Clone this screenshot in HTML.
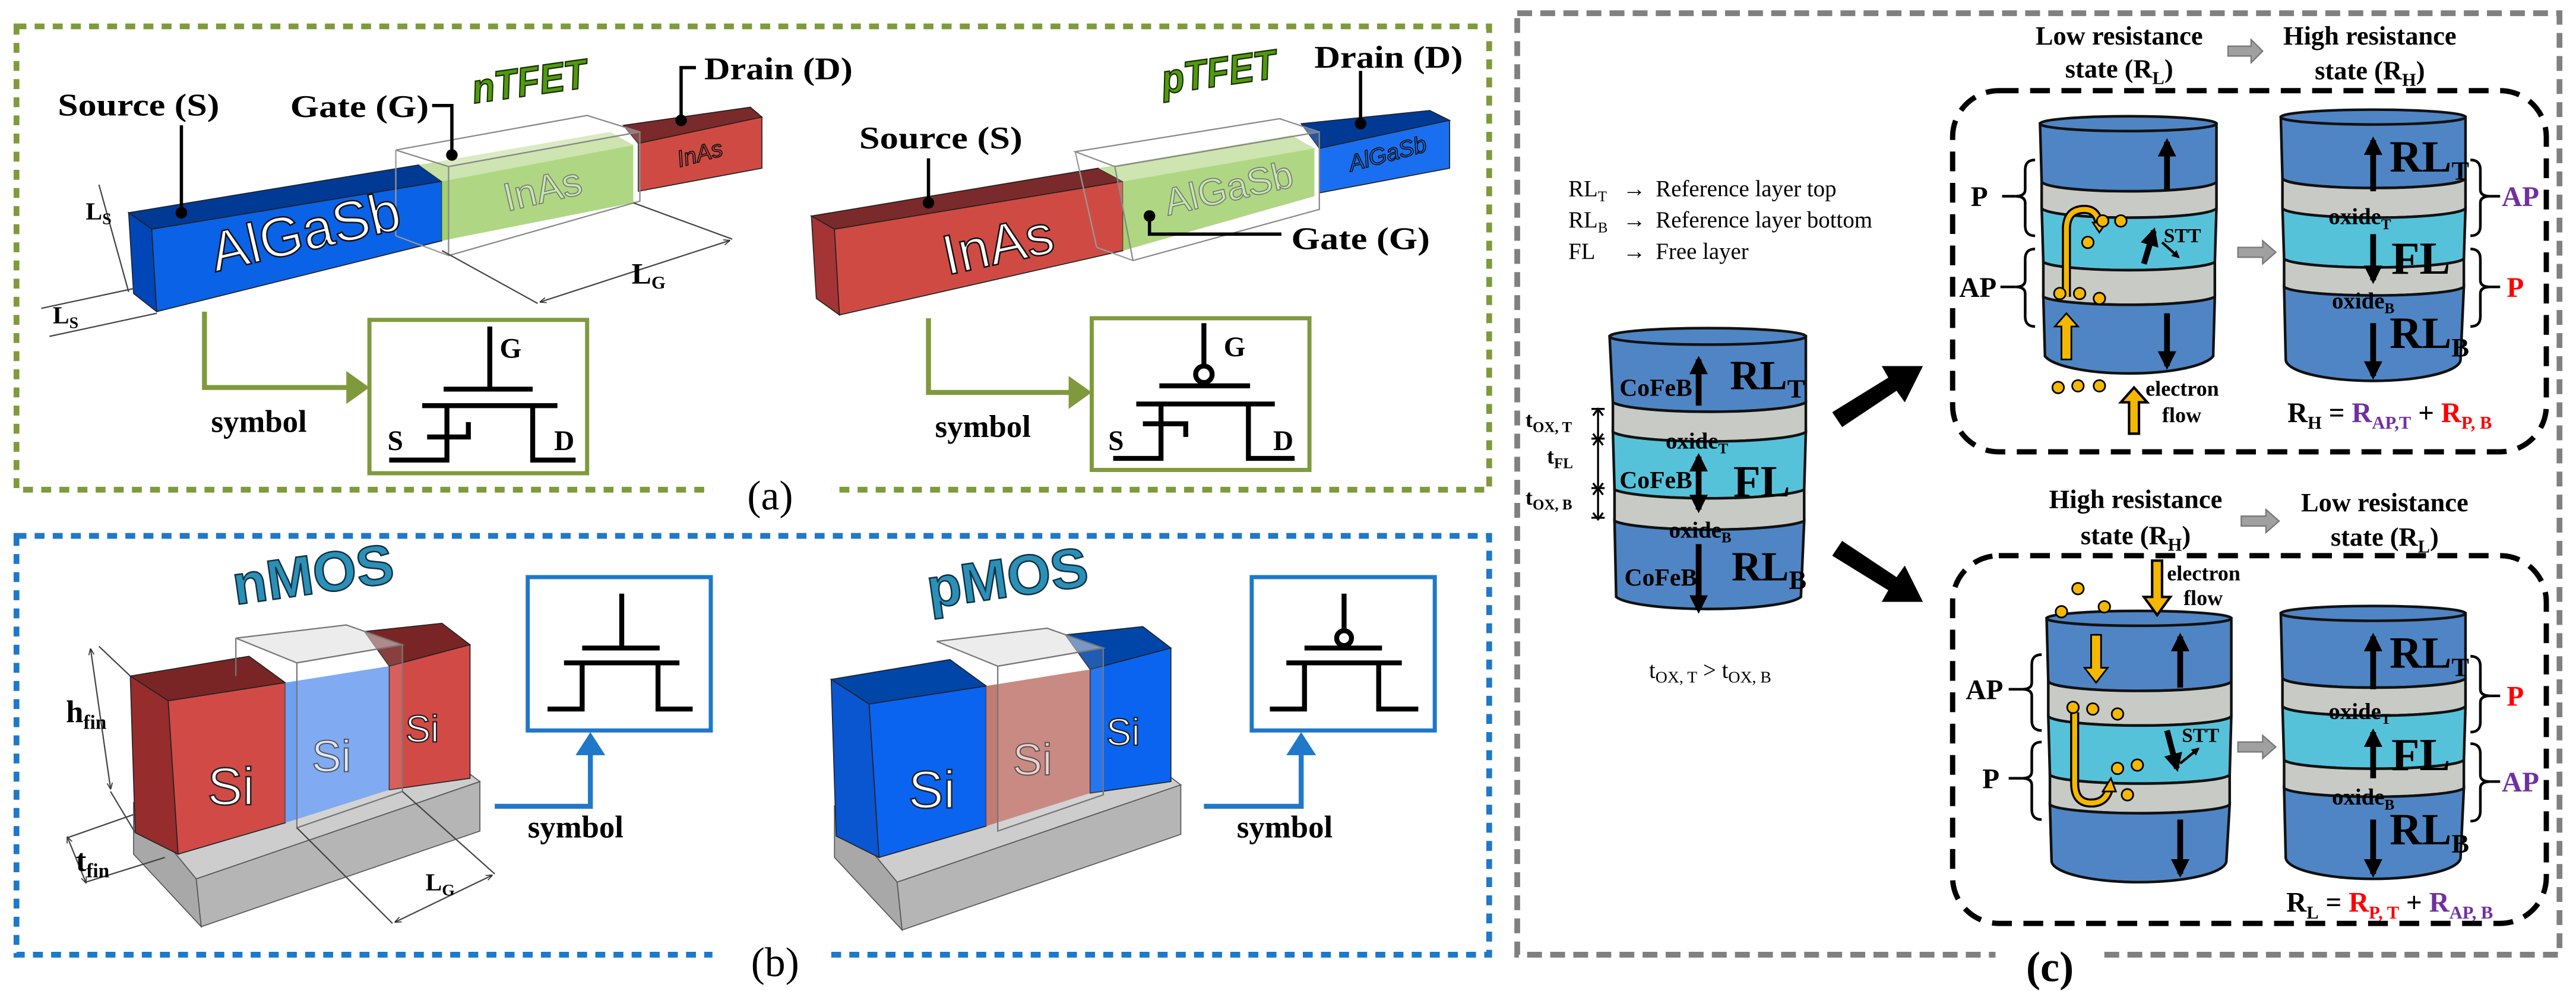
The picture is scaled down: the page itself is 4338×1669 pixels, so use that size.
<!DOCTYPE html>
<html><head><meta charset="utf-8"><style>
html,body{margin:0;padding:0;background:#fff;}
svg{display:block;}
text{font-family:"Liberation Serif",serif;}
.b{font-weight:bold;}
.sans{font-family:"Liberation Sans",sans-serif;}
</style></head><body>
<svg width="4338" height="1669" viewBox="0 0 1562 601" preserveAspectRatio="none" xmlns="http://www.w3.org/2000/svg">
<defs>
<marker id="ah" viewBox="0 0 10 10" refX="8" refY="5" markerWidth="3.2" markerHeight="3.2" orient="auto"><path d="M0,0L10,5L0,10z" fill="#000"/></marker>
<marker id="ahs" viewBox="0 0 10 10" refX="8" refY="5" markerWidth="5" markerHeight="5" orient="auto-start-reverse"><path d="M0,1L10,5L0,9" fill="none" stroke="#333" stroke-width="1.5"/></marker>
</defs>
<rect width="1562" height="601" fill="#fff"/>

<!-- ============ PANEL A ============ -->
<rect x="10" y="16" width="893" height="281" fill="none" stroke="#7f9a3c" stroke-width="3.5" stroke-dasharray="6 5"/>
<rect x="432" y="288" width="72" height="20" fill="#fff"/>
<text x="467" y="309" font-size="25" text-anchor="middle">(a)</text>

<polygon points="78,129 254,100 268,110 92,139" fill="#003a95" stroke="#222" stroke-width="0.6"/>
<polygon points="78,129 92,139 95,189 81,178" fill="#0046b8" stroke="#222" stroke-width="0.6"/>
<polygon points="92,139 268,110 268,146 95,189" fill="#0a62e6" stroke="#222" stroke-width="0.6"/>
<polygon points="254,100 370,80 384,88 268,110" fill="#c6e0a4"/>
<polygon points="268,110 384,88 384,123 268,146" fill="#a2d06e"/>
<polygon points="378,76 455,65 462,71 387,87" fill="#7a2a2a" stroke="#222" stroke-width="0.6"/>
<polygon points="387,87 462,71 462,102 387,116" fill="#d04a44" stroke="#222" stroke-width="0.6"/>
<polygon points="240,91 356,70 388,80 272,101" fill="#fff" fill-opacity="0.35" stroke="#888" stroke-width="0.8"/>
<polygon points="272,101 388,80 388,122 272,155" fill="#fff" fill-opacity="0.15" stroke="#888" stroke-width="0.8"/>
<line x1="240" y1="91" x2="240" y2="143" stroke="#999" stroke-width="0.8"/>
<line x1="240" y1="143" x2="272" y2="155" stroke="#999" stroke-width="0.8"/>
<text x="185" y="152" font-size="34" class="sans" fill="#fff" stroke="#111" stroke-width="0.9" text-anchor="middle" transform="rotate(-13 185 140)">AlGaSb</text>
<text x="329" y="123" font-size="24" class="sans" fill="#c8e8b0" stroke="#777" stroke-width="0.6" text-anchor="middle" transform="rotate(-13 329 115)">InAs</text>
<text x="424" y="98" font-size="14" class="sans" font-style="italic" fill="#d04a44" stroke="#111" stroke-width="0.6" text-anchor="middle" transform="rotate(-15 424 92)">InAs</text>
<text x="35" y="70" font-size="19" class="b" textLength="98" lengthAdjust="spacingAndGlyphs">Source (S)</text>
<polyline points="110,76 110,129" fill="none" stroke="#000" stroke-width="2"/><circle cx="110" cy="129" r="3.5"/>
<text x="176" y="71" font-size="19" class="b" textLength="84" lengthAdjust="spacingAndGlyphs">Gate (G)</text>
<polyline points="262,64 274,64 274,94" fill="none" stroke="#000" stroke-width="2"/><circle cx="274" cy="94" r="3.5"/>
<text x="427" y="48" font-size="19" class="b" textLength="90" lengthAdjust="spacingAndGlyphs">Drain (D)</text>
<polyline points="422,41 413,41 413,73" fill="none" stroke="#000" stroke-width="2"/><circle cx="413" cy="73" r="3.5"/>
<text x="286" y="58" font-size="25" class="sans b" font-style="italic" fill="#4f9a10" stroke="#1a2a00" stroke-width="0.8" textLength="70" lengthAdjust="spacingAndGlyphs" transform="rotate(-8 320 50)">nTFET</text>
<line x1="60" y1="112" x2="78" y2="177" stroke="#444" stroke-width="0.8"/>
<text x="52" y="133" font-size="15" class="b">L<tspan font-size="10" dy="3">S</tspan></text>
<line x1="30" y1="204" x2="95" y2="190" stroke="#444" stroke-width="0.8"/>
<line x1="25" y1="187" x2="81" y2="175" stroke="#444" stroke-width="0.8"/>
<text x="32" y="196" font-size="15" class="b">L<tspan font-size="10" dy="3">S</tspan></text>
<line x1="268" y1="152" x2="326" y2="184" stroke="#444" stroke-width="0.8"/>
<line x1="384" y1="123" x2="444" y2="145" stroke="#444" stroke-width="0.8"/>
<line x1="328" y1="183" x2="442" y2="146" stroke="#444" stroke-width="0.8" marker-start="url(#ahs)" marker-end="url(#ahs)"/>
<text x="383" y="172" font-size="18" class="b">L<tspan font-size="11" dy="3">G</tspan></text>
<polyline points="124,189 124,235 214,235" fill="none" stroke="#7f9a3c" stroke-width="3"/>
<polygon points="210,225 224,235 210,245" fill="#7f9a3c"/>
<text x="128" y="262" font-size="19" class="b">symbol</text>
<rect x="224" y="194" width="132" height="93" fill="#fff" stroke="#7f9a3c" stroke-width="2.5"/>
<g stroke="#000" stroke-width="3" fill="none">
<path d="M297,198V236M269,236H323M256,246H338M271,246V279H236M259,265H284V256M323,246V279H349"/>
</g>
<text x="303" y="217" font-size="17" class="b">G</text>
<text x="235" y="273" font-size="17" class="b">S</text>
<text x="336" y="273" font-size="17" class="b">D</text>

<polygon points="492,131 666,102 681,110 506,139" fill="#7a2a2a" stroke="#222" stroke-width="0.6"/>
<polygon points="492,131 506,139 509,191 495,181" fill="#a53434" stroke="#222" stroke-width="0.6"/>
<polygon points="506,139 681,110 681,152 509,191" fill="#d04a44" stroke="#222" stroke-width="0.6"/>
<polygon points="666,102 783,82 797,90 681,110" fill="#c6e0a4"/>
<polygon points="681,110 797,90 797,119 681,152" fill="#a2d06e"/>
<polygon points="789,75 867,67 879,73 800,90" fill="#003a95" stroke="#222" stroke-width="0.6"/>
<polygon points="800,90 879,73 879,102 800,117" fill="#1a6ff0" stroke="#222" stroke-width="0.6"/>
<polygon points="652,92 776,72 800,80 676,101" fill="#fff" fill-opacity="0.35" stroke="#888" stroke-width="0.8"/>
<polygon points="676,101 800,80 800,127 687,158" fill="#fff" fill-opacity="0.15" stroke="#888" stroke-width="0.8"/>
<line x1="652" y1="92" x2="665" y2="150" stroke="#999" stroke-width="0.8"/>
<line x1="665" y1="150" x2="687" y2="158" stroke="#999" stroke-width="0.8"/>
<text x="605" y="160" font-size="34" class="sans" fill="#fff" stroke="#111" stroke-width="0.9" text-anchor="middle" transform="rotate(-12 605 148)">InAs</text>
<text x="745" y="122" font-size="23" class="sans" fill="#c8e8b0" stroke="#777" stroke-width="0.6" text-anchor="middle" transform="rotate(-13 745 114)">AlGaSb</text>
<text x="841" y="98" font-size="14" class="sans" font-style="italic" fill="#1a6ff0" stroke="#111" stroke-width="0.6" text-anchor="middle" transform="rotate(-15 841 92)">AlGaSb</text>
<text x="521" y="90" font-size="19" class="b" textLength="99" lengthAdjust="spacingAndGlyphs">Source (S)</text>
<polyline points="563,96 563,123" fill="none" stroke="#000" stroke-width="2"/><circle cx="563" cy="123" r="3.5"/>
<text x="797" y="41" font-size="19" class="b" textLength="90" lengthAdjust="spacingAndGlyphs">Drain (D)</text>
<polyline points="825,43 825,75" fill="none" stroke="#000" stroke-width="2"/><circle cx="825" cy="75" r="3.5"/>
<text x="783" y="151" font-size="19" class="b" textLength="84" lengthAdjust="spacingAndGlyphs">Gate (G)</text>
<polyline points="697,131 697,142 777,142" fill="none" stroke="#000" stroke-width="2"/><circle cx="697" cy="131" r="3.5"/>
<text x="704" y="52" font-size="25" class="sans b" font-style="italic" fill="#4f9a10" stroke="#1a2a00" stroke-width="0.8" textLength="70" lengthAdjust="spacingAndGlyphs" transform="rotate(-8 740 44)">pTFET</text>
<polyline points="563,193 563,238 652,238" fill="none" stroke="#7f9a3c" stroke-width="3"/>
<polygon points="648,228 662,238 648,248" fill="#7f9a3c"/>
<text x="567" y="265" font-size="19" class="b">symbol</text>
<rect x="662" y="193" width="132" height="92" fill="#fff" stroke="#7f9a3c" stroke-width="2.5"/>
<g stroke="#000" stroke-width="3" fill="none">
<path d="M730,196V222M703,234H758M689,245H773M704,245V278H675M693,257H719V265M757,245V278H785"/>
<circle cx="730" cy="227" r="5"/>
</g>
<text x="742" y="216" font-size="17" class="b">G</text>
<text x="672" y="273" font-size="17" class="b">S</text>
<text x="772" y="273" font-size="17" class="b">D</text>

<!-- ============ PANEL B ============ -->
<rect x="10" y="325" width="893" height="254" fill="none" stroke="#1f78c8" stroke-width="3.5" stroke-dasharray="6 5"/>
<rect x="432" y="570" width="72" height="20" fill="#fff"/>
<text x="470" y="592" font-size="25" text-anchor="middle">(b)</text>

<g>
<polygon points="81,487 270,458 291,474 119,533" fill="#cdcdcd" stroke="#555" stroke-width="0.6"/>
<polygon points="81,487 119,533 122,562 81,518" fill="#a8a8a8" stroke="#555" stroke-width="0.6"/>
<polygon points="119,533 291,474 291,504 122,562" fill="#b5b5b5" stroke="#555" stroke-width="0.6"/>
<polygon points="79,410 151,398 173,414 102,425" fill="#7a2525" stroke="#222" stroke-width="0.6"/>
<polygon points="79,410 102,425 108,518 82,505" fill="#962c2c" stroke="#222" stroke-width="0.6"/>
<polygon points="102,425 173,414 173,499 108,518" fill="#d24a46" stroke="#222" stroke-width="0.6"/>
<polygon points="173,414 236,404 236,479 173,499" fill="#6f9ff0"/>
<polygon points="221,383 268,378 285,391 236,404" fill="#7a2525" stroke="#222" stroke-width="0.6"/>
<polygon points="236,404 285,391 285,472 236,479" fill="#d24a46" stroke="#222" stroke-width="0.6"/>
<polygon points="143,387 210,379 244,391 180,402" fill="#ddd" fill-opacity="0.55" stroke="#777" stroke-width="0.8"/>
<polygon points="180,402 244,391 244,480 180,502" fill="#fff" fill-opacity="0.12" stroke="#777" stroke-width="0.8"/>
<line x1="143" y1="387" x2="143" y2="410" stroke="#777" stroke-width="0.8"/>
</g>
<text x="140" y="488" font-size="32" class="sans" fill="#fff" stroke="#222" stroke-width="0.9" text-anchor="middle">Si</text>
<text x="201" y="468" font-size="27" class="sans" fill="#dde8ff" stroke="#555" stroke-width="0.7" text-anchor="middle">Si</text>
<text x="256" y="450" font-size="23" class="sans" fill="#fff" stroke="#222" stroke-width="0.8" text-anchor="middle">Si</text>
<text x="190" y="360" font-size="34" class="sans b" fill="#2a90b8" stroke="#123040" stroke-width="0.9" text-anchor="middle" transform="rotate(-8 190 350)">nMOS</text>
<line x1="55" y1="394" x2="67" y2="478" stroke="#444" stroke-width="0.8" marker-start="url(#ahs)" marker-end="url(#ahs)"/>
<line x1="60" y1="392" x2="79" y2="410" stroke="#444" stroke-width="0.8"/>
<line x1="67" y1="480" x2="82" y2="505" stroke="#444" stroke-width="0.8"/>
<text x="40" y="438" font-size="19" class="b">h<tspan font-size="12" dy="4">fin</tspan></text>
<line x1="41" y1="508" x2="52" y2="535" stroke="#444" stroke-width="0.8" marker-start="url(#ahs)" marker-end="url(#ahs)"/>
<line x1="41" y1="508" x2="81" y2="494" stroke="#444" stroke-width="0.8"/>
<line x1="52" y1="535" x2="100" y2="520" stroke="#444" stroke-width="0.8"/>
<text x="46" y="528" font-size="19" class="b">t<tspan font-size="12" dy="4">fin</tspan></text>
<line x1="180" y1="502" x2="238" y2="560" stroke="#444" stroke-width="0.8"/>
<line x1="244" y1="480" x2="300" y2="530" stroke="#444" stroke-width="0.8"/>
<line x1="240" y1="559" x2="298" y2="531" stroke="#444" stroke-width="0.8" marker-start="url(#ahs)" marker-end="url(#ahs)"/>
<text x="258" y="540" font-size="15" class="b">L<tspan font-size="10" dy="3">G</tspan></text>
<polyline points="300,489 358,489 358,455" fill="none" stroke="#1f78c8" stroke-width="3"/>
<polygon points="349,458 358,444 367,458" fill="#1f78c8"/>
<text x="320" y="508" font-size="19" class="b">symbol</text>
<rect x="320" y="350" width="111" height="93" fill="#fff" stroke="#1f78c8" stroke-width="2.5"/>
<path d="M377,360V393M353,393H400M342,402H412M353,402V430H332M399,402V430H420" stroke="#000" stroke-width="3" fill="none"/>

<g transform="translate(425,2)">
<polygon points="81,487 270,458 291,474 119,533" fill="#cdcdcd" stroke="#555" stroke-width="0.6"/>
<polygon points="81,487 119,533 122,562 81,518" fill="#a8a8a8" stroke="#555" stroke-width="0.6"/>
<polygon points="119,533 291,474 291,504 122,562" fill="#b5b5b5" stroke="#555" stroke-width="0.6"/>
<polygon points="79,410 151,398 173,414 102,425" fill="#0046a8" stroke="#222" stroke-width="0.6"/>
<polygon points="79,410 102,425 108,518 82,505" fill="#0a55d0" stroke="#222" stroke-width="0.6"/>
<polygon points="102,425 173,414 173,499 108,518" fill="#0a64f0" stroke="#222" stroke-width="0.6"/>
<polygon points="173,414 236,404 236,479 173,499" fill="#c27a72"/>
<polygon points="221,383 268,378 285,391 236,404" fill="#0046a8" stroke="#222" stroke-width="0.6"/>
<polygon points="236,404 285,391 285,472 236,479" fill="#0a64f0" stroke="#222" stroke-width="0.6"/>
<polygon points="143,387 210,379 244,391 180,402" fill="#ddd" fill-opacity="0.55" stroke="#777" stroke-width="0.8"/>
<polygon points="180,402 244,391 244,480 180,502" fill="#fff" fill-opacity="0.12" stroke="#777" stroke-width="0.8"/>
</g>
<text x="565" y="490" font-size="32" class="sans" fill="#fff" stroke="#222" stroke-width="0.9" text-anchor="middle">Si</text>
<text x="626" y="470" font-size="27" class="sans" fill="#f0d0cc" stroke="#555" stroke-width="0.7" text-anchor="middle">Si</text>
<text x="681" y="452" font-size="23" class="sans" fill="#fff" stroke="#222" stroke-width="0.8" text-anchor="middle">Si</text>
<text x="611" y="362" font-size="34" class="sans b" fill="#2a90b8" stroke="#123040" stroke-width="0.9" text-anchor="middle" transform="rotate(-8 611 352)">pMOS</text>
<polyline points="730,489 789,489 789,455" fill="none" stroke="#1f78c8" stroke-width="3"/>
<polygon points="780,458 789,444 798,458" fill="#1f78c8"/>
<text x="750" y="508" font-size="19" class="b">symbol</text>
<rect x="759" y="350" width="111" height="93" fill="#fff" stroke="#1f78c8" stroke-width="2.5"/>
<g stroke="#000" stroke-width="3" fill="none"><path d="M815,360V382M791,393H838M780,402H850M791,402V430H770M836,402V430H860"/><circle cx="815" cy="387" r="4.5"/></g>

<!-- ============ PANEL C ============ -->
<rect x="920" y="8" width="632" height="571" fill="none" stroke="#808080" stroke-width="3.5" stroke-dasharray="9 5"/>
<rect x="1210" y="570" width="64" height="25" fill="#fff"/>
<text x="1243" y="595" font-size="26" class="b" text-anchor="middle">(c)</text>

<g font-size="14">
<text x="951" y="119">RL<tspan font-size="9" dy="3">T</tspan></text><text x="984" y="119">→</text><text x="1004" y="119">Reference layer top</text>
<text x="951" y="138">RL<tspan font-size="9" dy="3">B</tspan></text><text x="984" y="138">→</text><text x="1004" y="138">Reference layer bottom</text>
<text x="951" y="157">FL</text><text x="984" y="157">→</text><text x="1004" y="157">Free layer</text>
</g>

<g stroke="#111" stroke-width="1.6">
<path d="M976,204 L978,244 A59.5,7 0 0 0 1095,244 L1095,204 Z" fill="#4f85c4"/>
<path d="M978,244 A59.5,7 0 0 0 1095,244 L1095,262 A59.5,7 0 0 1 978,262 Z" fill="#c8cac6"/>
<path d="M978,262 A59.5,7 0 0 0 1095,262 L1094,297 A59.5,7 0 0 1 979,297 Z" fill="#56c2da"/>
<path d="M979,297 A59.5,7 0 0 0 1094,297 L1094,316 A59.5,7 0 0 1 979,316 Z" fill="#c8cac6"/>
<path d="M979,316 A59.5,7 0 0 0 1094,316 L1092,362 A57,9 0 0 1 980,362 Z" fill="#4f85c4"/>
<ellipse cx="1035.5" cy="204" rx="59.5" ry="5" fill="#4f85c4"/>
</g>
<g font-weight="bold">
<text x="982" y="240" font-size="15">CoFeB</text>
<text x="1049" y="236" font-size="25">RL<tspan font-size="16" dy="5">T</tspan></text>
<text x="1010" y="272" font-size="14">oxide<tspan font-size="9" dy="3">T</tspan></text>
<text x="982" y="296" font-size="15">CoFeB</text>
<text x="1051" y="301" font-size="27">FL</text>
<text x="1012" y="326" font-size="14">oxide<tspan font-size="9" dy="3">B</tspan></text>
<text x="985" y="355" font-size="15">CoFeB</text>
<text x="1050" y="352" font-size="25">RL<tspan font-size="16" dy="5">B</tspan></text>
</g>
<line x1="1030" y1="246" x2="1030" y2="218" stroke="#000" stroke-width="3.5" marker-end="url(#ah)"/>
<line x1="1030" y1="290" x2="1030" y2="277" stroke="#000" stroke-width="3.5" marker-end="url(#ah)"/>
<line x1="1030" y1="290" x2="1030" y2="309" stroke="#000" stroke-width="3.5" marker-end="url(#ah)"/>
<line x1="1030" y1="330" x2="1030" y2="370" stroke="#000" stroke-width="3.5" marker-end="url(#ah)"/>
<g stroke="#000" stroke-width="1.2" fill="none">
<path d="M969,249V266M966,252L969,248L972,252M966,263L969,267L972,263"/>
<path d="M969,267V296M966,270L969,266L972,270M966,293L969,297L972,293"/>
<path d="M969,297V314M966,300L969,296L972,300M966,311L969,315L972,311"/>
<path d="M965,248H973M965,266H973M965,296H973M965,314H973"/>
</g>
<g font-weight="bold" font-size="13">
<text x="925" y="259">t<tspan font-size="9" dy="3">OX, T</tspan></text>
<text x="938" y="281">t<tspan font-size="9" dy="3">FL</tspan></text>
<text x="925" y="306">t<tspan font-size="9" dy="3">OX, B</tspan></text>
</g>
<text x="1037" y="411" font-size="14" text-anchor="middle">t<tspan font-size="10" dy="3">OX, T</tspan><tspan dy="-3"> &gt; t</tspan><tspan font-size="10" dy="3">OX, B</tspan></text>

<polygon points="1111,250 1145,229 1141,222 1166,222 1155,244 1150,237 1117,259" fill="#000"/>
<polygon points="1111,337 1145,358 1141,365 1166,365 1155,343 1150,350 1117,328" fill="#000"/>

<g font-weight="bold" font-size="16" text-anchor="middle">
<text x="1285" y="27">Low resistance</text>
<text x="1285" y="47">state (R<tspan font-size="11" dy="4">L</tspan><tspan dy="-4">)</tspan></text>
<text x="1437" y="27">High resistance</text>
<text x="1437" y="48">state (R<tspan font-size="11" dy="4">H</tspan><tspan dy="-4">)</tspan></text>
<text x="1295" y="308">High resistance</text>
<text x="1295" y="330">state (R<tspan font-size="11" dy="4">H</tspan><tspan dy="-4">)</tspan></text>
<text x="1446" y="310">Low resistance</text>
<text x="1446" y="331">state (R<tspan font-size="11" dy="4">L</tspan><tspan dy="-4">)</tspan></text>
</g>
<g fill="#a0a0a0" stroke="#777" stroke-width="0.8">
<polygon points="1351,28 1365,28 1365,24 1372,31 1365,38 1365,34 1351,34"/>
<polygon points="1359,313 1374,313 1374,309 1382,316 1374,323 1374,319 1359,319"/>
<polygon points="1357,150 1372,150 1372,146 1380,153 1372,160 1372,156 1357,156"/>
<polygon points="1357,450 1372,450 1372,446 1380,453 1372,460 1372,456 1357,456"/>
</g>

<rect x="1184" y="55" width="360" height="219" rx="28" fill="none" stroke="#000" stroke-width="3.2" stroke-dasharray="12 7"/>
<rect x="1184" y="337" width="360" height="223" rx="28" fill="none" stroke="#000" stroke-width="3.2" stroke-dasharray="12 7"/>

<g stroke="#111" stroke-width="1.6">
<path d="M1237,75 L1238,110 A53,6 0 0 0 1344,110 L1344,75 Z" fill="#4f85c4"/>
<path d="M1238,110 A53,6 0 0 0 1344,110 L1344,126 A53,6 0 0 1 1238,126 Z" fill="#c8cac6"/>
<path d="M1238,126 A53,6 0 0 0 1344,126 L1343,159 A53,6 0 0 1 1239,159 Z" fill="#56c2da"/>
<path d="M1239,159 A53,6 0 0 0 1343,159 L1343,180 A53,6 0 0 1 1239,180 Z" fill="#c8cac6"/>
<path d="M1239,180 A53,6 0 0 0 1343,180 L1342,216 A52,13 0 0 1 1240,216 Z" fill="#4f85c4"/>
<ellipse cx="1290.5" cy="75" rx="53.5" ry="4.5" fill="#4f85c4"/>
</g>
<line x1="1314" y1="115" x2="1314" y2="86" stroke="#000" stroke-width="3.5" marker-end="url(#ah)"/>
<line x1="1314" y1="190" x2="1314" y2="222" stroke="#000" stroke-width="3.5" marker-end="url(#ah)"/>
<line x1="1300" y1="160" x2="1306" y2="140" stroke="#000" stroke-width="3.5" marker-end="url(#ah)"/>
<line x1="1311" y1="147" x2="1321" y2="156" stroke="#000" stroke-width="1.5" marker-end="url(#ah)"/>
<text x="1312" y="147" font-size="12" font-weight="bold">STT</text>
<g stroke="#000" stroke-width="1">
<path d="M1253,180 V139 Q1253,127 1264,127 Q1272,127 1273,137" fill="none" stroke="#000" stroke-width="5.5"/>
<path d="M1253,180 V139 Q1253,127 1264,127 Q1272,127 1273,137" fill="none" stroke="#f5b800" stroke-width="3"/>
<polygon points="1269,135 1277,135 1273,141" fill="#f5b800"/>
<polygon points="1250,218 1250,198 1246,198 1253,190 1260,198 1256,198 1256,218" fill="#f5b800"/>
<polygon points="1291,263 1291,244 1286,244 1294,235 1302,244 1297,244 1297,263" fill="#f5b800" stroke-width="1.5"/>
<circle cx="1275" cy="134" r="3.5" fill="#f5b800"/><circle cx="1286" cy="134" r="3.5" fill="#f5b800"/>
<circle cx="1266" cy="147" r="3.5" fill="#f5b800"/>
<circle cx="1249" cy="178" r="3.5" fill="#f5b800"/><circle cx="1261" cy="178" r="3.5" fill="#f5b800"/><circle cx="1273" cy="181" r="3.5" fill="#f5b800"/>
<circle cx="1248" cy="235" r="3.5" fill="#f5b800"/><circle cx="1260" cy="234" r="3.5" fill="#f5b800"/><circle cx="1273" cy="234" r="3.5" fill="#f5b800"/>
</g>
<text x="1301" y="240" font-size="13" font-weight="bold">electron</text>
<text x="1311" y="256" font-size="13" font-weight="bold">flow</text>

<g stroke="#111" stroke-width="1.6">
<path d="M1383,71 L1384,108 A55.5,6 0 0 0 1495,108 L1495,71 Z" fill="#4f85c4"/>
<path d="M1384,108 A55.5,6 0 0 0 1495,108 L1495,126 A55.5,6 0 0 1 1384,126 Z" fill="#c8cac6"/>
<path d="M1384,126 A55.5,6 0 0 0 1495,126 L1494,157 A55,6 0 0 1 1385,157 Z" fill="#56c2da"/>
<path d="M1385,157 A55,6 0 0 0 1494,157 L1494,174 A55,6 0 0 1 1385,174 Z" fill="#c8cac6"/>
<path d="M1385,174 A55,6 0 0 0 1494,174 L1492,218 A53,13 0 0 1 1386,218 Z" fill="#4f85c4"/>
<ellipse cx="1439" cy="71" rx="56" ry="4.5" fill="#4f85c4"/>
</g>
<line x1="1439" y1="116" x2="1439" y2="85" stroke="#000" stroke-width="3.5" marker-end="url(#ah)"/>
<line x1="1439" y1="142" x2="1439" y2="170" stroke="#000" stroke-width="3.5" marker-end="url(#ah)"/>
<line x1="1439" y1="196" x2="1439" y2="228" stroke="#000" stroke-width="3.5" marker-end="url(#ah)"/>
<g font-weight="bold">
<text x="1449" y="104" font-size="27">RL<tspan font-size="16" dy="5">T</tspan></text>
<text x="1412" y="136" font-size="14">oxide<tspan font-size="9" dy="3">T</tspan></text>
<text x="1450" y="166" font-size="28">FL</text>
<text x="1414" y="187" font-size="14">oxide<tspan font-size="9" dy="3">B</tspan></text>
<text x="1449" y="211" font-size="27">RL<tspan font-size="16" dy="5">B</tspan></text>
</g>

<g stroke="#111" stroke-width="1.6">
<path d="M1241,375 L1242,413 A55.5,6 0 0 0 1353,413 L1353,375 Z" fill="#4f85c4"/>
<path d="M1242,413 A55.5,6 0 0 0 1353,413 L1353,434 A55.5,6 0 0 1 1242,434 Z" fill="#c8cac6"/>
<path d="M1242,434 A55.5,6 0 0 0 1353,434 L1352,470 A55,6 0 0 1 1243,470 Z" fill="#56c2da"/>
<path d="M1243,470 A55,6 0 0 0 1352,470 L1352,488 A55,6 0 0 1 1243,488 Z" fill="#c8cac6"/>
<path d="M1243,488 A55,6 0 0 0 1352,488 L1350,522 A53,13 0 0 1 1244,522 Z" fill="#4f85c4"/>
<ellipse cx="1297" cy="375" rx="56" ry="4.5" fill="#4f85c4"/>
</g>
<line x1="1322" y1="417" x2="1322" y2="386" stroke="#000" stroke-width="3.5" marker-end="url(#ah)"/>
<line x1="1322" y1="497" x2="1322" y2="530" stroke="#000" stroke-width="3.5" marker-end="url(#ah)"/>
<line x1="1314" y1="443" x2="1320" y2="466" stroke="#000" stroke-width="3.5" marker-end="url(#ah)"/>
<line x1="1322" y1="463" x2="1333" y2="454" stroke="#000" stroke-width="1.5" marker-end="url(#ah)"/>
<text x="1323" y="450" font-size="12" font-weight="bold">STT</text>
<g stroke="#000" stroke-width="1">
<path d="M1258,432 V475 Q1258,487 1268,487 Q1277,487 1279,478" fill="none" stroke="#000" stroke-width="5.5"/>
<path d="M1258,432 V475 Q1258,487 1268,487 Q1277,487 1279,478" fill="none" stroke="#f5b800" stroke-width="3"/>
<polygon points="1275,480 1283,480 1280,472" fill="#f5b800"/>
<polygon points="1268,385 1268,405 1264,405 1271,414 1278,405 1274,405 1274,385" fill="#f5b800"/>
<polygon points="1305,340 1305,362 1300,362 1308,373 1316,362 1311,362 1311,340" fill="#f5b800" stroke-width="1.5"/>
<circle cx="1257" cy="429" r="3.5" fill="#f5b800"/><circle cx="1269" cy="430" r="3.5" fill="#f5b800"/><circle cx="1284" cy="433" r="3.5" fill="#f5b800"/>
<circle cx="1284" cy="466" r="3.5" fill="#f5b800"/><circle cx="1296" cy="464" r="3.5" fill="#f5b800"/><circle cx="1290" cy="482" r="3.5" fill="#f5b800"/>
<circle cx="1250" cy="371" r="3.5" fill="#f5b800"/><circle cx="1260" cy="357" r="3.5" fill="#f5b800"/><circle cx="1276" cy="368" r="3.5" fill="#f5b800"/>
</g>
<text x="1314" y="352" font-size="13" font-weight="bold">electron</text>
<text x="1324" y="367" font-size="13" font-weight="bold">flow</text>

<g stroke="#111" stroke-width="1.6">
<path d="M1383,372 L1384,411 A55.5,6 0 0 0 1495,411 L1495,372 Z" fill="#4f85c4"/>
<path d="M1384,411 A55.5,6 0 0 0 1495,411 L1495,428 A55.5,6 0 0 1 1384,428 Z" fill="#c8cac6"/>
<path d="M1384,428 A55.5,6 0 0 0 1495,428 L1494,461 A55,6 0 0 1 1385,461 Z" fill="#56c2da"/>
<path d="M1385,461 A55,6 0 0 0 1494,461 L1494,478 A55,6 0 0 1 1385,478 Z" fill="#c8cac6"/>
<path d="M1385,478 A55,6 0 0 0 1494,478 L1492,520 A53,13 0 0 1 1386,520 Z" fill="#4f85c4"/>
<ellipse cx="1439" cy="372" rx="56" ry="4.5" fill="#4f85c4"/>
</g>
<line x1="1439" y1="418" x2="1439" y2="386" stroke="#000" stroke-width="3.5" marker-end="url(#ah)"/>
<line x1="1439" y1="472" x2="1439" y2="444" stroke="#000" stroke-width="3.5" marker-end="url(#ah)"/>
<line x1="1439" y1="497" x2="1439" y2="530" stroke="#000" stroke-width="3.5" marker-end="url(#ah)"/>
<g font-weight="bold">
<text x="1449" y="405" font-size="27">RL<tspan font-size="16" dy="5">T</tspan></text>
<text x="1412" y="436" font-size="14">oxide<tspan font-size="9" dy="3">T</tspan></text>
<text x="1450" y="467" font-size="28">FL</text>
<text x="1414" y="488" font-size="14">oxide<tspan font-size="9" dy="3">B</tspan></text>
<text x="1449" y="512" font-size="27">RL<tspan font-size="16" dy="5">B</tspan></text>
</g>

<!-- brackets -->
<g fill="none" stroke="#000" stroke-width="1.6">
<path d="M1234,97 Q1228,97 1228,103 V115 Q1228,119 1222,119 Q1228,119 1228,123 V137 Q1228,143 1234,143"/>
<path d="M1234,151 Q1228,151 1228,157 V170 Q1228,174 1222,174 Q1228,174 1228,178 V192 Q1228,198 1234,198"/>
<path d="M1498,97 Q1504,97 1504,103 V115 Q1504,119 1510,119 Q1504,119 1504,123 V137 Q1504,143 1498,143"/>
<path d="M1498,151 Q1504,151 1504,157 V170 Q1504,174 1510,174 Q1504,174 1504,178 V192 Q1504,198 1498,198"/>
<path d="M1238,397 Q1232,397 1232,403 V414 Q1232,418 1226,418 Q1232,418 1232,422 V437 Q1232,443 1238,443"/>
<path d="M1238,450 Q1232,450 1232,456 V468 Q1232,472 1226,472 Q1232,472 1232,476 V491 Q1232,497 1238,497"/>
<path d="M1498,398 Q1504,398 1504,404 V418 Q1504,422 1510,422 Q1504,422 1504,426 V438 Q1504,444 1498,444"/>
<path d="M1498,451 Q1504,451 1504,457 V470 Q1504,474 1510,474 Q1504,474 1504,478 V492 Q1504,498 1498,498"/>
<path d="M1214,119H1222M1213,174H1222M1218,418H1226M1218,472H1226M1510,119H1516M1510,174H1516M1510,422H1516M1510,474H1516"/>
</g>
<g font-weight="bold" font-size="17">
<text x="1195" y="125">P</text>
<text x="1188" y="180">AP</text>
<text x="1192" y="424">AP</text>
<text x="1202" y="478">P</text>
<text x="1517" y="125" fill="#7030a0">AP</text>
<text x="1520" y="180" fill="#ff0000">P</text>
<text x="1520" y="428" fill="#ff0000">P</text>
<text x="1517" y="480" fill="#7030a0">AP</text>
</g>
<text x="1449" y="256" font-size="17" font-weight="bold" text-anchor="middle">R<tspan font-size="11" dy="4">H</tspan><tspan dy="-4"> = </tspan><tspan fill="#7030a0">R</tspan><tspan fill="#7030a0" font-size="11" dy="4">AP,T</tspan><tspan dy="-4"> + </tspan><tspan fill="#ff0000">R</tspan><tspan fill="#ff0000" font-size="11" dy="4">P, B</tspan></text>
<text x="1449" y="553" font-size="17" font-weight="bold" text-anchor="middle">R<tspan font-size="11" dy="4">L</tspan><tspan dy="-4"> = </tspan><tspan fill="#ff0000">R</tspan><tspan fill="#ff0000" font-size="11" dy="4">P, T</tspan><tspan dy="-4"> + </tspan><tspan fill="#7030a0">R</tspan><tspan fill="#7030a0" font-size="11" dy="4">AP, B</tspan></text>
</svg>
</body></html>
